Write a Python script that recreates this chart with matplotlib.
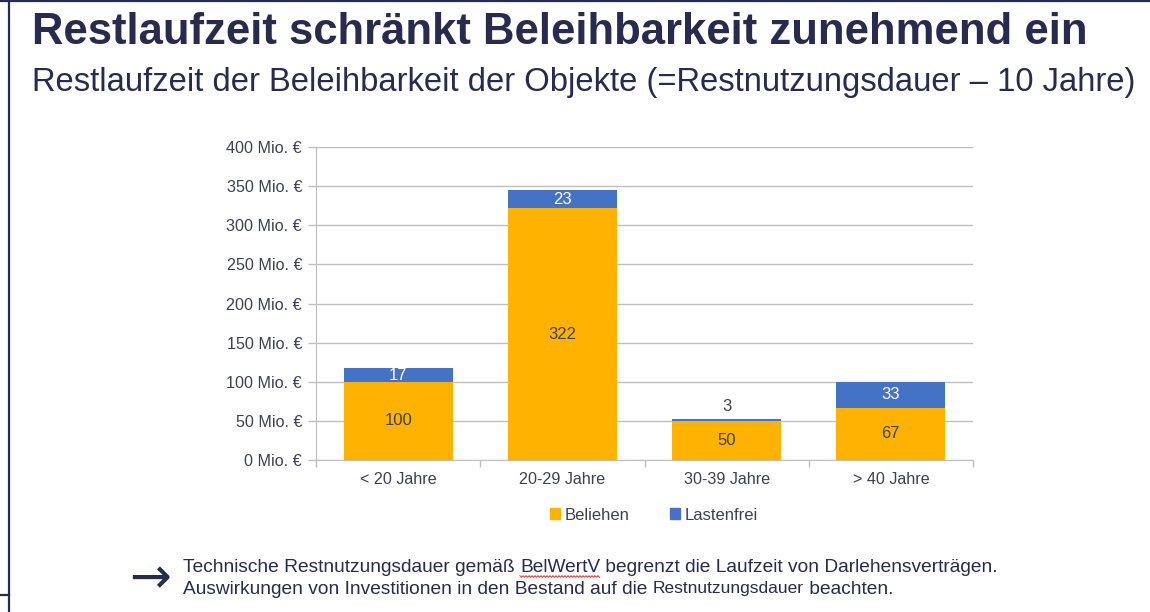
import matplotlib
matplotlib.use("Agg")
import matplotlib.pyplot as plt
from matplotlib.lines import Line2D
from matplotlib.patches import Patch
import numpy as np

categories = ["< 20 Jahre", "20-29 Jahre", "30-39 Jahre", "> 40 Jahre"]
beliehen = [100, 322, 50, 67]
lastenfrei = [17, 23, 3, 33]
yticks = [0, 50, 100, 150, 200, 250, 300, 350, 400]
ytick_labels = [f"{v} Mio. €" for v in yticks]

title = "Restlaufzeit schränkt Beleihbarkeit zunehmend ein"
subtitle = "Restlaufzeit der Beleihbarkeit der Objekte (=Restnutzungsdauer – 10 Jahre)"
foot1a = "Technische Restnutzungsdauer gemäß "
foot1b = "BelWertV"
foot1c = " begrenzt die Laufzeit von Darlehensverträgen."
foot2a = "Auswirkungen von Investitionen in den Bestand auf die "
foot2b = "Restnutzungsdauer"
foot2c = " beachten."

plt.rcParams['font.family'] = ['Liberation Sans', 'DejaVu Sans']

NAVY = "#282b4d"
TXT = "#404055"
ORANGE = "#FFB300"
BLUE = "#4472C4"
GRID = "#bfbfbf"

W, H = 1150, 612
fig = plt.figure(figsize=(W / 100, H / 100), dpi=100)
fig.patch.set_facecolor("white")

# frame lines
fig.add_artist(Line2D([8.5 / W, 8.5 / W], [0, 1], color=NAVY, lw=1.6))
fig.add_artist(Line2D([0, 1], [1 - 1 / H, 1 - 1 / H], color=NAVY, lw=1.6))
fig.add_artist(Line2D([0, 8.5 / W], [1 - 594.5 / H, 1 - 594.5 / H], color=NAVY, lw=1.6))

fig.text(32 / W, 1 - 32 / H, title, fontsize=31.4, fontweight="bold", color=NAVY,
         ha="left", va="center")
fig.text(32 / W, 1 - 82 / H, subtitle, fontsize=23.6, color=NAVY,
         ha="left", va="center")

ax_l, ax_r = 316 / W, 973 / W
ax_b, ax_t = 1 - 460 / H, 1 - 147 / H
ax = fig.add_axes([ax_l, ax_b, ax_r - ax_l, ax_t - ax_b])

x = np.arange(len(categories))
bw = 0.665
ax.bar(x, beliehen, bw, color=ORANGE, zorder=3, label="Beliehen")
ax.bar(x, lastenfrei, bw, bottom=beliehen, color=BLUE, zorder=3, label="Lastenfrei")

for i in range(len(categories)):
    ax.text(x[i], beliehen[i] / 2, str(beliehen[i]), ha="center", va="center",
            fontsize=12, color="#404040", zorder=4)
    if lastenfrei[i] >= 10:
        ax.text(x[i], beliehen[i] + lastenfrei[i] / 2, str(lastenfrei[i]),
                ha="center", va="center", fontsize=12, color="white", zorder=4)
    else:
        ax.text(x[i], beliehen[i] + lastenfrei[i] + 15, str(lastenfrei[i]),
                ha="center", va="center", fontsize=12, color=TXT, zorder=4)

ax.set_xlim(-0.5, len(categories) - 0.5)
ax.set_ylim(0, 400)
ax.set_yticks(yticks)
ax.set_yticklabels(ytick_labels, fontsize=11.6, color=TXT)
ax.yaxis.grid(True, color=GRID, lw=1, zorder=0)
ax.set_axisbelow(True)

ax.set_xticks(np.arange(-0.5, len(categories), 1.0), minor=False)
ax.set_xticklabels([""] * (len(categories) + 1))
ax.set_xticks(x, minor=True)
ax.set_xticklabels(categories, minor=True, fontsize=11.6, color=TXT)
ax.tick_params(axis="x", which="minor", length=0, pad=9)
ax.tick_params(axis="x", which="major", length=5, color=GRID, width=1)
ax.tick_params(axis="y", length=6, color=GRID, width=1, pad=4)

for s in ["top", "right"]:
    ax.spines[s].set_visible(False)
ax.spines["left"].set_color(GRID)
ax.spines["bottom"].set_color(GRID)

handles = [Patch(color=ORANGE), Patch(color=BLUE)]
fig.legend(handles, ["Beliehen", "Lastenfrei"], loc="center",
           bbox_to_anchor=(654 / W, 1 - 515 / H), ncol=2, frameon=False,
           fontsize=12, handlelength=0.6, handleheight=0.6, handletextpad=0.3,
           columnspacing=2.4, labelcolor=TXT)

# footer
fig.text(150 / W, 1 - 579 / H, "→", fontsize=36, color=NAVY, ha="center", va="center",
         family=["DejaVu Sans"])

fig.canvas.draw()
r = fig.canvas.get_renderer()


def run(parts, y, x0):
    xpos = x0
    boxes = []
    for txt, fs in parts:
        t = fig.text(xpos / W, 1 - y / H, txt, fontsize=fs, color=NAVY,
                     ha="left", va="center")
        bb = t.get_window_extent(r)
        boxes.append(bb)
        xpos = bb.x1
    return boxes


FS = 13.8
b1 = run([(foot1a, FS), (foot1b, FS), (foot1c, FS)], 567, 183)
run([(foot2a, FS), (foot2b, FS - 1.3), (foot2c, FS)], 589, 183)

# red wavy spell-check underline under "BelWertV"
bb = b1[1]
xs = np.arange(bb.x0, bb.x1, 1.5)
ys_pix = (1 - 576.5 / H) * H + np.where(np.arange(len(xs)) % 2 == 0, 0.8, -0.8)
fig.add_artist(Line2D(xs / W, ys_pix / H, color="#e03030", lw=0.7))

fig.savefig("out.png", dpi=100)
